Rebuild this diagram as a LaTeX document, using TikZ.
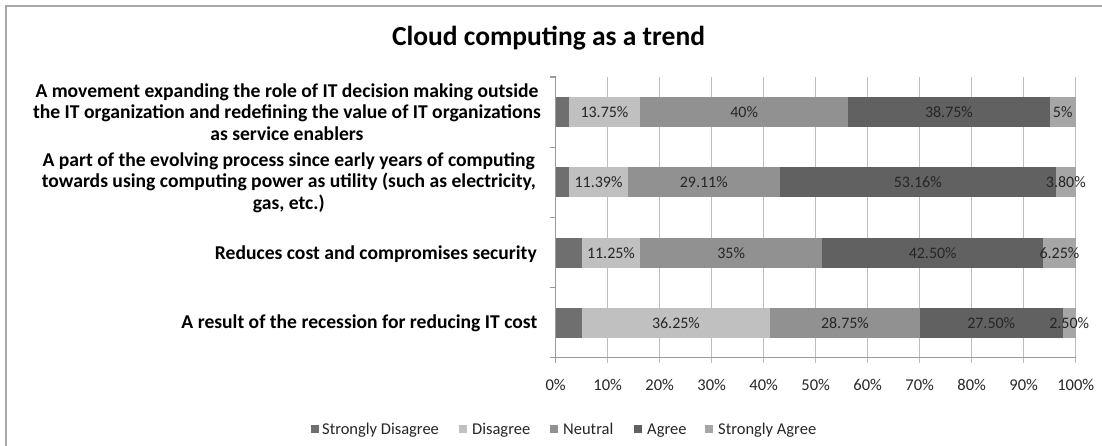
\documentclass[tikz,border=0pt]{standalone}
\usepackage{fontspec}
\setmainfont{Carlito}
\definecolor{cSD}{HTML}{6F6F6F}
\definecolor{cD}{HTML}{C0C0C0}
\definecolor{cN}{HTML}{919191}
\definecolor{cA}{HTML}{616161}
\definecolor{cSA}{HTML}{A6A6A6}
\definecolor{gridc}{HTML}{BEBEBE}
\definecolor{framec}{HTML}{A8A8A8}
\definecolor{axisc}{HTML}{9A9A9A}
\tikzset{
  dlab/.style={inner sep=0pt, anchor=base, font=\fontsize{16}{18}\selectfont, text=black!85},
  ticklab/.style={inner sep=0pt, anchor=base, font=\fontsize{16.5}{18}\selectfont, text=black!85},
  catlab/.style={inner sep=0pt, anchor=east, align=center, font=\bfseries\fontsize{19.6}{21.6}\selectfont},
  leglab/.style={inner sep=0pt, anchor=base west, font=\fontsize{16.5}{18}\selectfont, text=black!85},
  legbox/.style={inner sep=0pt, minimum size=8pt, anchor=west},
  gridline/.style={draw=gridc, line width=1.3pt},
  axisline/.style={draw=axisc, line width=1.2pt}
}
% name, ycenter, start%, width%, colour, label
\newcommand{\barseg}[6]{%
  \fill[#5] ({555.7+5.2*(#3)}, #2-15) rectangle ({555.7+5.2*(#3+#4)}, #2+15);
  \node[dlab] (#1) at ({555.7+5.2*(#3+#4/2)}, #2+5.5) {#6};
}
\begin{document}
\begin{tikzpicture}[x=1pt,y=-1pt]
\useasboundingbox (0,0) rectangle (1102,446);
\fill[white] (0,0) rectangle (1102,446);
% chart frame
\draw[framec, line width=2pt] (6,460) -- (6,6) -- (1120,6);
% title
\node[inner sep=0pt, font=\bfseries\fontsize{27.5}{30}\selectfont] (title) at (548.5,38) {Cloud computing as a trend};
% gridlines
\foreach \i in {1,...,10} {
  \draw[gridline] ({555.7+52*\i}, 77) -- ({555.7+52*\i}, 363);
}
% bars row 1
\barseg{r1a}{112.1}{0}{2.5}{cSD}{}
\barseg{r1b}{112.1}{2.5}{13.75}{cD}{13.75\%}
\barseg{r1c}{112.1}{16.25}{40}{cN}{40\%}
\barseg{r1d}{112.1}{56.25}{38.75}{cA}{38.75\%}
\barseg{r1e}{112.1}{95}{5}{cSA}{5\%}
% row 2
\barseg{r2a}{182.4}{0}{2.54}{cSD}{}
\barseg{r2b}{182.4}{2.54}{11.39}{cD}{11.39\%}
\barseg{r2c}{182.4}{13.93}{29.11}{cN}{29.11\%}
\barseg{r2d}{182.4}{43.04}{53.16}{cA}{53.16\%}
\barseg{r2e}{182.4}{96.2}{3.8}{cSA}{3.80\%}
% row 3
\barseg{r3a}{252.6}{0}{5}{cSD}{}
\barseg{r3b}{252.6}{5}{11.25}{cD}{11.25\%}
\barseg{r3c}{252.6}{16.25}{35}{cN}{35\%}
\barseg{r3d}{252.6}{51.25}{42.5}{cA}{42.50\%}
\barseg{r3e}{252.6}{93.75}{6.25}{cSA}{6.25\%}
% row 4
\barseg{r4a}{322.9}{0}{5}{cSD}{}
\barseg{r4b}{322.9}{5}{36.25}{cD}{36.25\%}
\barseg{r4c}{322.9}{41.25}{28.75}{cN}{28.75\%}
\barseg{r4d}{322.9}{70}{27.5}{cA}{27.50\%}
\barseg{r4e}{322.9}{97.5}{2.5}{cSA}{2.50\%}
% axes
\draw[axisline] (555.7,77) -- (555.7,357.5);
\draw[axisline] (549.5,357.5) -- (1075.7,357.5);
\draw[axisline] (555.7,357.5) -- (555.7,363);
\foreach \j in {0,...,4} {
  \draw[axisline] (550,{77+70.15*\j}) -- (555.7,{77+70.15*\j});
}
% tick labels
\foreach \i in {0,...,10} {
  \pgfmathtruncatemacro{\pc}{10*\i}
  \node[ticklab] (t\i) at ({555.7+52*\i}, 390.5) {\pc\%};
}
% category labels
\node[catlab] (c1) at (541,112.1) {A movement expanding the role of IT decision making outside\\the IT organization and redefining the value of IT organizations\\as service enablers};
\node[catlab] (c2) at (536,182.4) {A part of the evolving process since early years of computing\\towards using computing power as utility (such as electricity,\\gas, etc.)};
\node[catlab] (c3) at (537,254) {Reduces cost and compromises security};
\node[catlab] (c4) at (537.5,323.5) {A result of the recession for reducing IT cost};
% legend
\node[legbox, fill=cSD] (l1) at (310.5,429) {};
\node[leglab] (l1t) at (322,434.5) {Strongly Disagree};
\node[legbox, fill=cD] (l2) at (459,429) {};
\node[leglab] (l2t) at (472,434.5) {Disagree};
\node[legbox, fill=cN] (l3) at (550,429) {};
\node[leglab] (l3t) at (563,434.5) {Neutral};
\node[legbox, fill=cA] (l4) at (634,429) {};
\node[leglab] (l4t) at (647,434.5) {Agree};
\node[legbox, fill=cSA] (l5) at (705,429) {};
\node[leglab] (l5t) at (718,434.5) {Strongly Agree};
\end{tikzpicture}
\end{document}
